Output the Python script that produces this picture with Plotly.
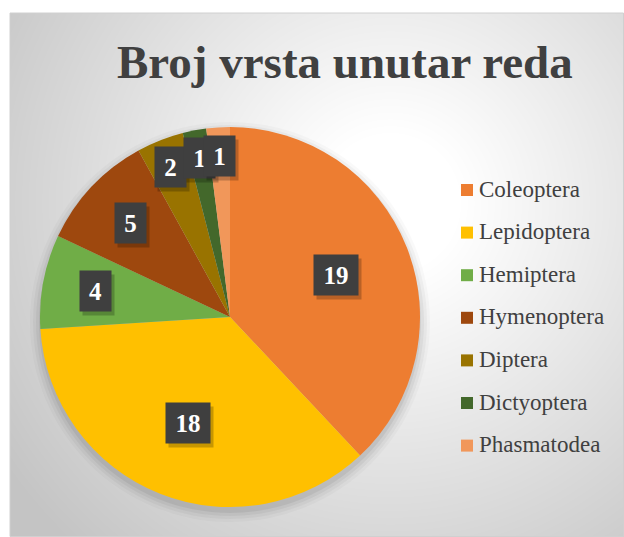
import base64, math, struct, zlib
import numpy as np
import plotly.graph_objects as go

# ---- data ----
orders = ["Coleoptera", "Lepidoptera", "Hemiptera", "Hymenoptera", "Diptera", "Dictyoptera", "Phasmatodea"]
counts = [19, 18, 4, 5, 2, 1, 1]
colors = ["#ED7D31", "#FFC000", "#70AD47", "#9E480E", "#997300", "#43682B", "#F1975A"]
title_text = "Broj vrsta unutar reda"

# ---- layout geometry (pixels) ----
W, H = 624, 537
CX, CY, R = 230, 317, 190           # pie centre / radius
BOX_X0, BOX_Y0 = 10, 13              # chart-area frame
SERIF = "Liberation Serif"
TXT = "#404040"

def px(x):
    return x / W

def py(y):
    return 1 - y / H

dom_x = [px(CX - R), px(CX + R)]
dom_y = [py(CY + R), py(CY - R)]

# radial gradient background as a PNG image (built with zlib)
bw, bh = W - BOX_X0, H - BOX_Y0
yy, xx = np.mgrid[0:bh, 0:bw]
d = np.sqrt((xx - 380.0) ** 2 + (yy - 190.0) ** 2) / 470.0
t = np.clip((d - 0.15) / 0.85, 0, 1)
g = (255 - t * (255 - 196)).astype(np.uint8)
raw = b"".join(b"\x00" + g[i].tobytes() for i in range(bh))

def chunk(tag, data):
    c = struct.pack(">I", len(data)) + tag + data
    return c + struct.pack(">I", zlib.crc32(tag + data) & 0xffffffff)

png = (b"\x89PNG\r\n\x1a\n" + chunk(b"IHDR", struct.pack(">IIBBBBB", bw, bh, 8, 0, 0, 0, 0))
       + chunk(b"IDAT", zlib.compress(raw, 9)) + chunk(b"IEND", b""))
src = "data:image/png;base64," + base64.b64encode(png).decode()

fig = go.Figure()
fig.add_trace(go.Pie(
    labels=orders, values=counts, sort=False, direction="clockwise", rotation=0,
    marker=dict(colors=colors, line=dict(width=0)),
    textinfo="none", hoverinfo="label+value", showlegend=False,
    domain=dict(x=dom_x, y=dom_y),
))

shapes = []
annotations = []

# frame
shapes.append(dict(type="rect", xref="paper", yref="paper",
                   x0=px(BOX_X0), x1=px(W - 0.5), y0=py(H - 0.5), y1=py(BOX_Y0),
                   line=dict(color="#d0d0d0", width=1), fillcolor="rgba(0,0,0,0)", layer="below"))

# soft pie shadow
for grow, op in [(10, 0.025), (7, 0.035), (4, 0.045), (1, 0.06)]:
    r = R + grow
    shapes.append(dict(type="circle", xref="paper", yref="paper",
                       x0=px(CX - r), x1=px(CX + r), y0=py(CY + 5 + r), y1=py(CY + 5 - r),
                       fillcolor=f"rgba(0,0,0,{op})", line=dict(width=0), layer="below"))

# data labels (boxes) at mid-angle of each slice
total = sum(counts)
cum = 0
for name, v in zip(orders, counts):
    share = v / total
    mid = (cum + v / 2) / total * 2 * math.pi
    cum += v
    frac = 0.6 if share >= 0.2 else (0.72 if share >= 0.08 else 0.85)
    rr = R * frac
    lx = CX + rr * math.sin(mid)
    ly = CY - rr * math.cos(mid)
    wbox = 13 * len(str(v)) + 18
    common = dict(x=px(lx), y=py(ly), xref="paper", yref="paper", showarrow=False,
                  xanchor="center", yanchor="middle", width=wbox, height=40, borderpad=0)
    annotations.append(dict(**common, text=" ", bgcolor="rgba(0,0,0,0.22)", xshift=3, yshift=-4,
                            font=dict(size=24, family=SERIF)))
    annotations.append(dict(**common, text=f"<b>{v}</b>", bgcolor="#3f3f3f",
                            align="center", valign="middle",
                            font=dict(size=25, family=SERIF, color="#ffffff")))

# manual legend
LEG_SQ_X, LEG_TXT_X, LEG_Y0, LEG_DY, SQ = 461, 477, 189, 42.6, 12
for i, (name, c) in enumerate(zip(orders, colors)):
    yc = LEG_Y0 + i * LEG_DY
    shapes.append(dict(type="rect", xref="paper", yref="paper",
                       x0=px(LEG_SQ_X), x1=px(LEG_SQ_X + SQ), y0=py(yc + 1 + SQ / 2), y1=py(yc + 1 - SQ / 2),
                       fillcolor=c, line=dict(width=0)))
    annotations.append(dict(x=px(LEG_TXT_X), y=py(yc), xref="paper", yref="paper", showarrow=False,
                            text=name, xanchor="left", yanchor="middle",
                            font=dict(size=23, family=SERIF, color=TXT)))

# title
annotations.append(dict(x=px(345), y=py(62), xref="paper", yref="paper", showarrow=False,
                        text=f"<b>{title_text}</b>", xanchor="center", yanchor="middle",
                        font=dict(size=47, family=SERIF, color=TXT)))

fig.update_layout(
    width=W, height=H, margin=dict(l=0, r=0, t=0, b=0),
    paper_bgcolor="#ffffff", plot_bgcolor="rgba(0,0,0,0)",
    font=dict(family=SERIF),
    showlegend=False,
    images=[dict(source=src, xref="paper", yref="paper", x=px(BOX_X0), y=py(BOX_Y0),
                 sizex=bw / W, sizey=bh / H, sizing="stretch", xanchor="left", yanchor="top",
                 layer="below")],
    shapes=shapes, annotations=annotations,
)

fig.write_html("out.html")
